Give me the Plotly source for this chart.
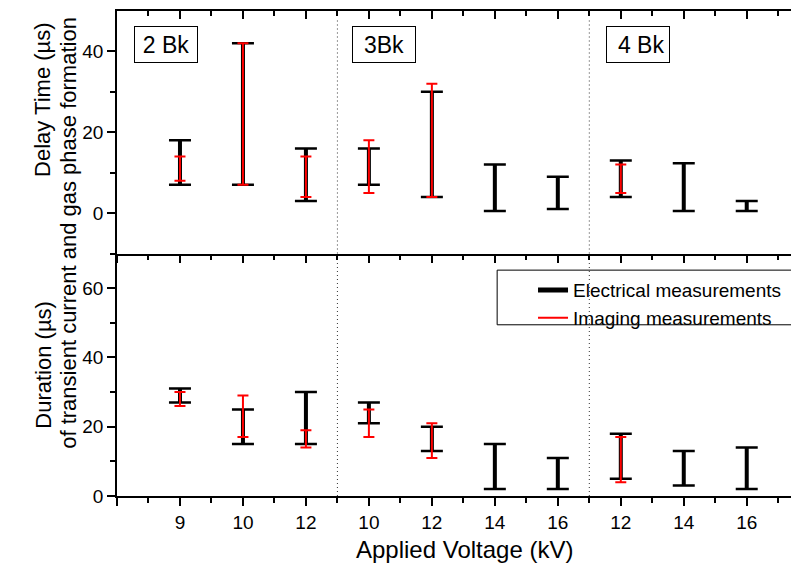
import numpy as np
import plotly.graph_objects as go

# ---------------- data ----------------
voltages = ["9", "10", "12", "10", "12", "14", "16", "12", "14", "16"]
group_labels = ["2 Bk", "3Bk", "\u00a04 Bk"]
group_sizes = [3, 4, 3]

delay_elec_low = [7, 7, 3, 7, 4, 0.5, 1, 4, 0.5, 0.5]
delay_elec_high = [18, 42, 16, 16, 30, 12, 9, 13, 12.3, 3]
delay_img_low = [8, 7, 4, 5, 4, None, None, 5, None, None]
delay_img_high = [14, 42, 14, 18, 32, None, None, 12, None, None]

dur_elec_low = [27, 15, 15, 21, 13, 2, 2, 5, 3, 2]
dur_elec_high = [31, 25, 30, 27, 20, 15, 11, 18, 13, 14]
dur_img_low = [26, 17, 14, 17, 11, None, None, 4, None, None]
dur_img_high = [30, 29, 19, 25, 21, None, None, 17, None, None]

# ---------------- helpers ----------------
x_pos = np.arange(1, len(voltages) + 1)
FONT = "Liberation Sans, Arial, sans-serif"


def bar_traces(lows, highs, xa, ya, color, thick, capw, stem=None):
    xs, lo, hi = [], [], []
    for x, l, h in zip(x_pos, lows, highs):
        if l is None or h is None:
            continue
        xs.append(x)
        lo.append(l)
        hi.append(h)
    lo = np.array(lo, dtype=float)
    hi = np.array(hi, dtype=float)
    out = []
    specs = [(thick, capw)]
    if stem is not None:
        specs.append((stem, 0))
    for t, w in specs:
        out.append(go.Scatter(
            x=xs, y=lo, mode="markers", xaxis=xa, yaxis=ya,
            marker=dict(size=1, color="rgba(0,0,0,0)"),
            error_y=dict(type="data", symmetric=False, array=hi - lo,
                         arrayminus=np.zeros_like(lo), color=color,
                         thickness=t, width=w),
            showlegend=False, hoverinfo="skip"))
    return out


fig = go.Figure()
for tr in bar_traces(delay_elec_low, delay_elec_high, "x", "y", "black", 2.5, 11, stem=4):
    fig.add_trace(tr)
for tr in bar_traces(delay_img_low, delay_img_high, "x", "y", "red", 2, 5.5):
    fig.add_trace(tr)
for tr in bar_traces(dur_elec_low, dur_elec_high, "x2", "y2", "black", 2.5, 11, stem=4):
    fig.add_trace(tr)
for tr in bar_traces(dur_img_low, dur_img_high, "x2", "y2", "red", 2, 5.5):
    fig.add_trace(tr)

# legend entries
fig.add_trace(go.Scatter(x=[None], y=[None], mode="lines", xaxis="x2", yaxis="y2",
                         line=dict(color="black", width=5), name="Electrical measurements"))
fig.add_trace(go.Scatter(x=[None], y=[None], mode="lines", xaxis="x2", yaxis="y2",
                         line=dict(color="red", width=2), name="Imaging measurements"))

# ---------------- axes ----------------
xr = [0, 10.83]
tickvals = list(range(0, len(voltages) + 1))
ticktext = [""] + voltages
axis_common = dict(showline=True, linecolor="black", linewidth=1.5, showgrid=False,
                   zeroline=False, tickcolor="black", tickwidth=1.5,
                   tickfont=dict(family=FONT, size=19, color="black"))
minor_x_out = dict(tickmode="linear", tick0=0.5, dtick=1, ticks="outside",
                   ticklen=5, tickcolor="black", tickwidth=1.5)
minor_x_in = dict(tickmode="linear", tick0=0.5, dtick=1, ticks="inside",
                  ticklen=5, tickcolor="black", tickwidth=1.5)

fig.update_layout(
    xaxis=dict(domain=[0, 1], anchor="y", range=xr, tickmode="array", tickvals=tickvals,
               ticks="outside", ticklen=8, showticklabels=False, minor=minor_x_out,
               **axis_common),
    xaxis3=dict(overlaying="x", anchor="y", side="top", range=xr, tickmode="array",
                tickvals=tickvals, ticks="inside", ticklen=8, showticklabels=False,
                minor=minor_x_in, **axis_common),
    xaxis2=dict(domain=[0, 1], anchor="y2", range=xr, tickmode="array", tickvals=tickvals,
                ticktext=ticktext, ticks="outside", ticklen=8, minor=minor_x_out,
                **axis_common),
    yaxis=dict(domain=[0.5, 1], anchor="x", range=[-10, 50], tickmode="array",
               tickvals=[0, 20, 40], ticks="outside", ticklen=8,
               minor=dict(tickmode="array", tickvals=[-10, 10, 30], ticks="outside",
                          ticklen=5, tickcolor="black", tickwidth=1.5),
               **axis_common),
    yaxis2=dict(domain=[0, 0.5], anchor="x2", range=[0, 70], tickmode="array",
                tickvals=[0, 20, 40, 60], ticks="outside", ticklen=8,
                minor=dict(tickmode="array", tickvals=[10, 30, 50], ticks="outside",
                           ticklen=5, tickcolor="black", tickwidth=1.5),
                **axis_common),
)
# dummy trace so that xaxis3 is drawn
fig.add_trace(go.Scatter(x=[None], y=[None], xaxis="x3", yaxis="y", showlegend=False))

# group separators
bounds = np.cumsum(group_sizes)[:-1] + 0.5
for b in bounds:
    for yr in ["y domain", "y2 domain"]:
        fig.add_shape(type="line", xref="x", yref=yr, x0=b, x1=b, y0=0, y1=0.97,
                      line=dict(color="#333333", width=1, dash="1px,3px"))

# group labels
label_x = [0.774, 4.233, 8.27]
for lab, lx in zip(group_labels, label_x):
    fig.add_annotation(x=lx, y=0.930, xref="x", yref="paper", text=lab, showarrow=False,
                       xanchor="center", yanchor="middle",
                       width=62, height=35, bordercolor="black", borderwidth=1, borderpad=0,
                       bgcolor="white", font=dict(family=FONT, size=23, color="black"))

# axis titles
title_font = dict(family=FONT, size=22, color="black")
fig.add_annotation(text="Applied Voltage (kV)", x=0.510, y=-0.111, xref="paper", yref="paper",
                   xanchor="center", yanchor="middle", showarrow=False,
                   font=dict(family=FONT, size=24, color="black"))
fig.add_annotation(text="Delay Time (\u00b5s)", x=-0.109, y=0.816, xref="paper", yref="paper",
                   xanchor="center", yanchor="middle", textangle=-90, showarrow=False,
                   font=title_font)
fig.add_annotation(text="Duration (\u00b5s)", x=-0.109, y=0.27, xref="paper", yref="paper",
                   xanchor="center", yanchor="middle", textangle=-90, showarrow=False,
                   font=title_font)
fig.add_annotation(text="of transient current and gas phase formation", x=-0.0723, y=0.542,
                   xref="paper", yref="paper", xanchor="center", yanchor="middle",
                   textangle=-90, showarrow=False, font=title_font)

# legend box
fig.add_shape(type="rect", xref="paper", yref="paper", x0=0.5574, x1=0.9927, y0=0.353, y1=0.4657,
              line=dict(color="black", width=1), fillcolor="white", layer="below")

fig.update_layout(
    width=791, height=560,
    margin=dict(l=109, r=0, t=3, b=72),
    paper_bgcolor="white", plot_bgcolor="white",
    legend=dict(x=0.610, y=0.4636, xanchor="left", yanchor="top", bgcolor="rgba(0,0,0,0)",
                borderwidth=0, font=dict(family=FONT, size=19, color="black"),
                tracegroupgap=0),
    showlegend=True,
)

fig.write_html("out.html")
